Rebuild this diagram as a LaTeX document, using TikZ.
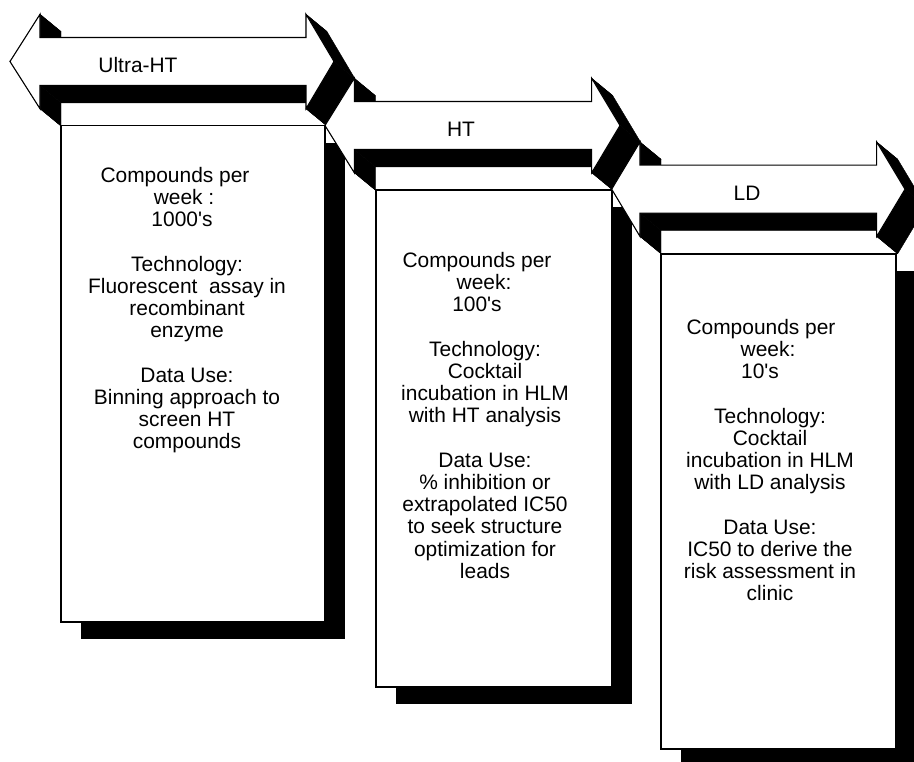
\documentclass[tikz,border=0pt]{standalone}
\usepackage{fontspec}
\setmainfont{Liberation Sans}
\usetikzlibrary{calc}

% A double-headed stage arrow with a solid black extruded side.
% #1 name, #2 left tip x, #3 left head x, #4 right head x, #5 right tip x, #6 centre y
\newcommand\stagearrow[6]{%
  \coordinate (#1-1) at (#2,#6);
  \coordinate (#1-2) at (#3,#6-47.2);
  \coordinate (#1-3) at (#3,#6-24);
  \coordinate (#1-4) at (#4,#6-24);
  \coordinate (#1-5) at (#4,#6-47.2);
  \coordinate (#1-6) at (#5,#6);
  \coordinate (#1-7) at (#4,#6+47.2);
  \coordinate (#1-8) at (#4,#6+24);
  \coordinate (#1-9) at (#3,#6+24);
  \coordinate (#1-10) at (#3,#6+47.2);
  \foreach \i/\j in {1/2,2/3,3/4,4/5,5/6,6/7,7/8,8/9,9/10,10/1}
    \filldraw[depth] (#1-\i) -- (#1-\j) -- ($(#1-\j)+(21,17.3)$) -- ($(#1-\i)+(21,17.3)$) -- cycle;
  \draw[face] (#1-1) -- (#1-2) -- (#1-3) -- (#1-4) -- (#1-5) -- (#1-6)
    -- (#1-7) -- (#1-8) -- (#1-9) -- (#1-10) -- cycle;
}

% A white card with a flat black drop shadow.
\newcommand\stagecard[4]{%
  \fill[cardshadow] (#1+20,#2+17) rectangle (#3+20,#4+17);
  \draw[card] (#1,#2) rectangle (#3,#4);
}

\newcommand\sq{\textquotesingle}

\begin{document}
\begin{tikzpicture}[x=0.75pt,y=-0.75pt,
  face/.style={fill=white,draw=black,line width=0.8pt,line join=miter},
  depth/.style={fill=black,draw=black,line width=0.3pt},
  card/.style={fill=white,draw=black,line width=0.8pt},
  cardshadow/.style={fill=black},
  title/.style={font=\fontsize{15.7}{16.65}\selectfont,inner sep=0pt,anchor=base},
  body/.style={font=\fontsize{15.7}{16.65}\selectfont,align=center,inner sep=0pt,anchor=north}]
\useasboundingbox (0,0) rectangle (914,761);

% Stage 1: Ultra-HT
\stagearrow{uht}{10}{40}{306}{334}{61.5}
\stagecard{61}{125.8}{325}{622}
\node[title] (uhtlabel) at (138,72) {Ultra-HT};
\node[body] (uhttext) at (187,167) {%
  Compounds per\rule{18pt}{0pt}\\
  week :\rule{4.5pt}{0pt}\\
  1000\sq s\rule{7.5pt}{0pt}\\[16.65pt]
  Technology:\\
  Fluorescent\ \ assay in\\
  recombinant\\
  enzyme\\[16.65pt]
  Data Use:\\
  Binning approach to\\
  screen HT\\
  compounds};

% Stage 2: HT
\stagearrow{ht}{325}{354.3}{591.7}{620}{125.5}
\stagecard{376}{190}{612}{687}
\node[title] (htlabel) at (461,136) {HT};
\node[body] (httext) at (485,252) {%
  Compounds per\rule{12pt}{0pt}\\
  week:\rule{1.5pt}{0pt}\\
  100\sq s\rule{12pt}{0pt}\\[16.65pt]
  Technology:\\
  Cocktail\\
  incubation in HLM\\
  with HT analysis\\[16.65pt]
  Data Use:\\
  \% inhibition or\\
  extrapolated IC50\\
  to seek structure\\
  optimization for\\
  leads};

% Stage 3: LD
\stagearrow{ld}{611.7}{640}{876.7}{905}{189.2}
\stagecard{661}{254}{896}{749}
\node[title] (ldlabel) at (747,200) {LD};
\node[body] (ldtext) at (770,319) {%
  Compounds per\rule{13.5pt}{0pt}\\
  week:\rule{3pt}{0pt}\\
  10\sq s\rule{15pt}{0pt}\\[16.65pt]
  Technology:\\
  Cocktail\\
  incubation in HLM\\
  with LD analysis\\[16.65pt]
  Data Use:\\
  IC50 to derive the\\
  risk assessment in\\
  clinic};
\end{tikzpicture}
\end{document}
